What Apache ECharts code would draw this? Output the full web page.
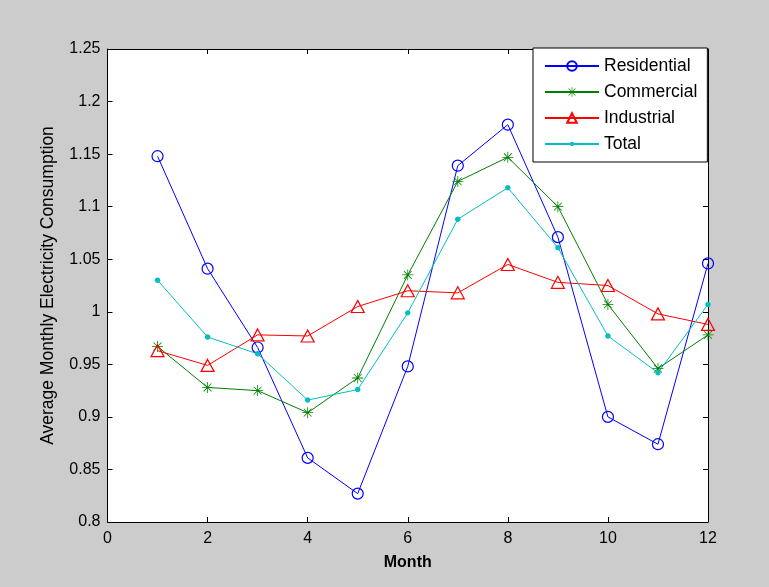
<!DOCTYPE html>
<html>
<head>
<meta charset="utf-8">
<script src="https://cdn.jsdelivr.net/npm/echarts@6/dist/echarts.min.js"></script>
<style>
html,body{margin:0;padding:0;background:#cccccc;}
#c{width:769px;height:587px;}
</style>
</head>
<body>
<div id="c"></div>
<script>
const months = [1,2,3,4,5,6,7,8,9,10,11,12];
const residential = [1.148,1.041,0.966,0.861,0.827,0.948,1.139,1.178,1.071,0.900,0.874,1.046];
const commercial  = [0.967,0.928,0.925,0.904,0.937,1.035,1.124,1.147,1.100,1.007,0.946,0.978];
const industrial  = [0.963,0.949,0.978,0.977,1.005,1.020,1.018,1.045,1.028,1.025,0.998,0.988];
const total       = [1.030,0.976,0.960,0.916,0.926,0.999,1.088,1.118,1.061,0.977,0.942,1.007];
const seriesNames = ['Residential','Commercial','Industrial','Total'];

const pair = arr => months.map((m,i)=>[m,arr[i]]);
const asterisk = 'path://M-0.7,-10L0.7,-10L0.7,10L-0.7,10Z M-10,-0.7L10,-0.7L10,0.7L-10,0.7Z M-7.6,-6.6L-6.6,-7.6L7.6,6.6L6.6,7.6Z M6.6,-7.6L7.6,-6.6L-6.6,7.6L-7.6,6.6Z';
const dot = 'path://M-10,-10 M10,10 M-4.5,0 C-4.5,-6 4.5,-6 4.5,0 C4.5,6 -4.5,6 -4.5,0 Z';
const font = 'Arial, "Liberation Sans", sans-serif';

const chart = echarts.init(document.getElementById('c'));
const axisCommon = {
  z:3,
  axisLine:{show:true,onZero:false,lineStyle:{color:'#000',width:1}},
  axisTick:{show:true,inside:true,length:5,lineStyle:{color:'#000'}},
  splitLine:{show:false}
};
chart.setOption({
  backgroundColor:'#cccccc',
  animation:false,
  grid:{left:107.5,right:61,top:49,bottom:65,show:true,backgroundColor:'#fff',borderWidth:0,z:0},
  legend:{
    left:533, top:48, orient:'vertical', z:6,
    data:seriesNames,
    backgroundColor:'#fff', borderColor:'#000', borderWidth:1, borderRadius:0,
    padding:[9,10,9,11], itemGap:8, itemWidth:54, itemHeight:12,
    textStyle:{fontFamily:font,fontSize:17.5,color:'#000'}
  },
  xAxis:[
    Object.assign({type:'value',min:0,max:12,interval:2,
      name:'Month',nameLocation:'middle',nameGap:33,
      nameTextStyle:{fontFamily:font,fontSize:16,fontWeight:'bold',color:'#000'},
      axisLabel:{fontFamily:font,fontSize:16,color:'#000',margin:9}},axisCommon),
    Object.assign({type:'value',min:0,max:12,interval:2,position:'top',axisLabel:{show:false}},axisCommon)
  ],
  yAxis:[
    Object.assign({type:'value',min:0.8,max:1.25,interval:0.05,
      name:'Average Monthly Electricity Consumption',nameLocation:'middle',nameGap:50,
      nameTextStyle:{fontFamily:font,fontSize:17.5,color:'#000'},
      axisLabel:{fontFamily:font,fontSize:16,color:'#000',margin:7,
        formatter:v=>String(+v.toFixed(2))}},axisCommon),
    Object.assign({type:'value',min:0.8,max:1.25,interval:0.05,position:'right',axisLabel:{show:false}},axisCommon)
  ],
  series:[
    {name:'Residential',type:'line',data:pair(residential),symbol:'circle',symbolSize:11,z:4,
      lineStyle:{color:'#0000ff',width:1},
      itemStyle:{color:'rgba(255,255,255,0)',borderColor:'#0000ff',borderWidth:1.2}},
    {name:'Commercial',type:'line',data:pair(commercial),symbol:asterisk,symbolSize:11,z:4,
      lineStyle:{color:'#008000',width:1},
      itemStyle:{color:'#008000',borderColor:'#008000',borderWidth:0}},
    {name:'Industrial',type:'line',data:pair(industrial),symbol:'triangle',symbolSize:[13,12],z:4,
      lineStyle:{color:'#ff0000',width:1},
      itemStyle:{color:'rgba(255,255,255,0)',borderColor:'#ff0000',borderWidth:1.2}},
    {name:'Total',type:'line',data:pair(total),symbol:dot,symbolSize:12,z:4,
      lineStyle:{color:'#00bfbf',width:1},
      itemStyle:{color:'#00bfbf',borderWidth:0}}
  ]
});
</script>
</body>
</html>
